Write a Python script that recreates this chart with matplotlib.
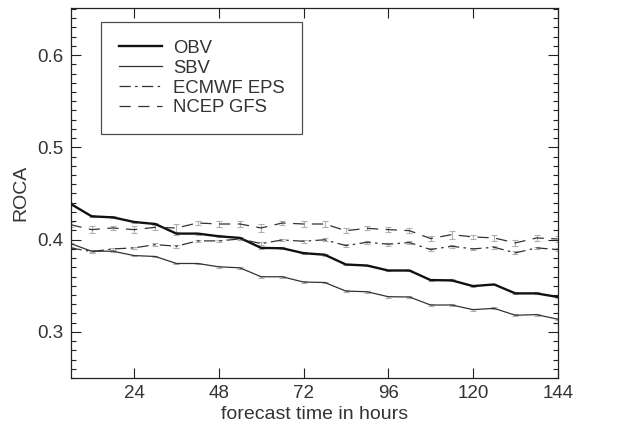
import matplotlib
matplotlib.use("Agg")
import matplotlib.pyplot as plt
from matplotlib.ticker import MultipleLocator, FixedLocator

plt.rcParams['font.family'] = ['Liberation Sans', 'DejaVu Sans']

hours = [6, 12, 18, 24, 30, 36, 42, 48, 54, 60, 66, 72,
         78, 84, 90, 96, 102, 108, 114, 120, 126, 132, 138, 144]

obv = [0.4388, 0.4252, 0.4241, 0.4191, 0.4169, 0.4065, 0.4065, 0.4036, 0.4018, 0.3910, 0.3906, 0.3853,
       0.3836, 0.3730, 0.3719, 0.3665, 0.3665, 0.3561, 0.3558, 0.3496, 0.3514, 0.3417, 0.3417, 0.3378]
sbv = [0.3957, 0.3874, 0.3874, 0.3827, 0.3817, 0.3741, 0.3741, 0.3705, 0.3694, 0.3597, 0.3597, 0.3540,
       0.3535, 0.3442, 0.3435, 0.3381, 0.3378, 0.3291, 0.3291, 0.3241, 0.3255, 0.3180, 0.3187, 0.3137]
ecmwf = [0.3910, 0.3870, 0.3899, 0.3910, 0.3946, 0.3928, 0.3986, 0.3986, 0.4007, 0.3957, 0.3996, 0.3982,
         0.3998, 0.3935, 0.3971, 0.3950, 0.3968, 0.3892, 0.3928, 0.3899, 0.3917, 0.3856, 0.3910, 0.3892]
ncep = [0.4162, 0.4108, 0.4126, 0.4108, 0.4133, 0.4126, 0.4180, 0.4169, 0.4169, 0.4126, 0.4180, 0.4169,
        0.4169, 0.4097, 0.4122, 0.4108, 0.4097, 0.4011, 0.4054, 0.4029, 0.4018, 0.3964, 0.4018, 0.4007]

ncep_err = [0.0030, 0.0036, 0.0025, 0.0036, 0.0029, 0.0043, 0.0022, 0.0029, 0.0029, 0.0043, 0.0022, 0.0036,
            0.0029, 0.0029, 0.0022, 0.0025, 0.0029, 0.0029, 0.0043, 0.0025, 0.0036, 0.0029, 0.0036, 0.0029]
ecmwf_err = [0.0015] * 24
bv_err = [0.0010] * 24

xticks = [24, 48, 72, 96, 120, 144]
yticks = [0.3, 0.4, 0.5, 0.6]

fig = plt.figure(figsize=(6.28, 4.30), dpi=100)
ax = fig.add_axes([70.5 / 628, 1 - 378 / 430, (557.7 - 70.5) / 628, (378 - 8) / 430])

ecol = '#b0b0b0'
ekw = dict(fmt='none', ecolor=ecol, elinewidth=0.8, capsize=2, capthick=0.8, zorder=1)
ax.errorbar(hours, ncep, yerr=ncep_err, **ekw)
ax.errorbar(hours, ecmwf, yerr=ecmwf_err, **ekw)
ax.errorbar(hours, obv, yerr=bv_err, **ekw)
ax.errorbar(hours, sbv, yerr=bv_err, **ekw)

ax.plot(hours, obv, color='#111111', lw=1.7, label='OBV', zorder=3)
ax.plot(hours, sbv, color='#333333', lw=0.9, label='SBV', zorder=3)
ax.plot(hours, ecmwf, color='#333333', lw=0.9, dashes=(9, 3.5, 2, 3.5), label='ECMWF EPS', zorder=3)
ax.plot(hours, ncep, color='#333333', lw=0.9, dashes=(9, 6), label='NCEP GFS', zorder=3)

ax.set_xlim(6, 144)
ax.set_ylim(0.25, 0.651)
ax.xaxis.set_major_locator(FixedLocator(xticks))
ax.set_xticklabels([str(t) for t in xticks])
ax.yaxis.set_major_locator(FixedLocator(yticks))
ax.set_yticklabels([f"{t:.1f}" for t in yticks])
ax.yaxis.set_minor_locator(MultipleLocator(0.01))

tc = '#333333'
ax.tick_params(which='both', direction='in', top=True, right=True, colors='#222222',
               labelcolor=tc, labelsize=13.5, width=0.8)
ax.tick_params(which='major', length=7, pad=5)
ax.tick_params(which='minor', length=3.5)
for s in ax.spines.values():
    s.set_linewidth(0.9)
    s.set_color('#222222')

ax.set_xlabel('forecast time in hours', fontsize=14, color=tc, labelpad=3)
ax.set_ylabel('ROCA', fontsize=14, color=tc, labelpad=6)

leg = ax.legend(loc='upper left', bbox_to_anchor=(0.063, 0.962), fontsize=13.3,
                frameon=True, fancybox=False, shadow=False, handlelength=2.35,
                borderpad=0.95, labelspacing=0.16, handletextpad=0.6, borderaxespad=0)
leg.get_frame().set_edgecolor('#222222')
leg.get_frame().set_linewidth(0.9)
for t in leg.get_texts():
    t.set_color(tc)

fig.savefig('out.png', dpi=100)
